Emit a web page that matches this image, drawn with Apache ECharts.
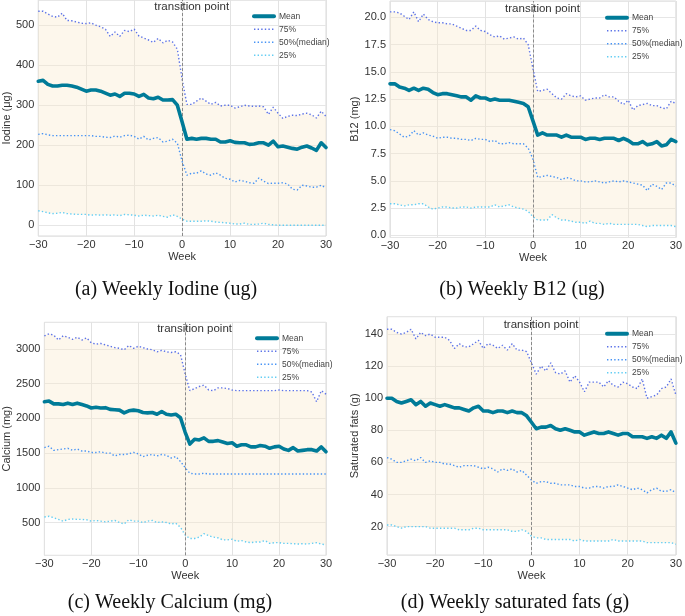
<!DOCTYPE html>
<html><head><meta charset="utf-8">
<script src="https://cdn.jsdelivr.net/npm/echarts@6/dist/echarts.min.js"></script>
<style>html,body{margin:0;padding:0;background:#fff}#c{width:685px;height:616px}</style>
</head><body><div id="c"></div>
<script>
const weeks = [-30,-29,-28,-27,-26,-25,-24,-23,-22,-21,-20,-19,-18,-17,-16,-15,-14,-13,-12,-11,-10,-9,-8,-7,-6,-5,-4,-3,-2,-1,0,1,2,3,4,5,6,7,8,9,10,11,12,13,14,15,16,17,18,19,20,21,22,23,24,25,26,27,28,29,30];
const seriesNames = ['Mean', '75%', '50%(median)', '25%'];
const transitionWeek = 0;
const noteWeek = 2;

// (a) Iodine
const iodineMean = [360,362,352,348,348,350,350,348,345,340, 335,338,338,335,330,325,328,322,330,330, 328,322,327,318,316,320,313,313,314,300, 258, 215,217,215,217,217,215,215,208,208,211, 207,206,206,202,203,206,206,200,210,196, 198,195,192,190,195,198,193,187,206,194];
const iodineP75 = [535,535,528,522,520,530,512,511,508,505, 504,506,500,496,490,472,483,472,487,484, 490,473,468,463,457,467,456,462,458,440, 365, 302,302,310,318,310,302,307,298,300,300, 293,296,300,298,297,298,296,277,295,280, 267,272,275,274,278,280,276,268,285,272];
const iodineP50 = [227,229,226,224,224,224,224,224,224,224, 224,224,222,222,220,219,223,220,224,225, 222,215,222,213,217,219,208,210,215,205, 160, 125,130,130,136,128,125,131,125,117,115, 108,112,110,106,105,118,110,104,105,105, 106,103,90,88,100,98,95,95,100,93];
const iodineP25 = [36,34,31,29,30,32,29,28,27,27, 27,25,26,25,26,25,26,24,27,26, 25,23,25,24,23,25,22,20,26,22, 15, 10,10,10,10,11,10,8,7,6,5, 3,3,5,2,2,3,5,2,1,0, 0,0,0,0,0,0,0,0,0,0];

// (b) B12
const b12Mean = [13.9,13.9,13.6,13.5,13.3,13.5,13.3,13.5,13.4,13.1, 12.9,13.0,13.0,12.9,12.8,12.7,12.7,12.4,12.8,12.6, 12.6,12.4,12.5,12.4,12.4,12.4,12.3,12.2,12.1,11.8, 10.5, 9.2,9.4,9.2,9.2,9.2,9.0,9.2,9.0,9.0,9.0, 8.8,8.9,8.9,8.8,8.9,8.9,8.9,8.7,8.9,8.7, 8.4,8.4,8.6,8.3,8.4,8.6,8.2,8.3,8.8,8.6];
const b12P75 = [20.5,20.5,20.4,20.1,19.8,20.5,19.6,20.3,19.8,19.6, 19.5,19.5,19.4,19.4,19.2,19.0,18.8,18.8,19.2,18.8, 18.7,18.4,18.2,18.3,18.0,18.1,18.2,18.0,18.1,17.5, 15.3, 13.2,13.3,13.4,13.0,12.6,12.5,13.0,12.8,12.7,12.8, 12.4,12.5,12.6,12.6,12.9,12.7,12.7,12.3,12.0,12.4, 11.5,11.9,12.0,12.1,11.9,11.9,11.7,11.6,12.3,12.1];
const b12P50 = [9.7,9.6,9.3,9.0,9.1,9.6,9.2,9.4,9.2,9.1, 8.9,9.0,9.0,8.9,8.9,8.8,8.8,8.7,8.9,8.8, 8.8,8.6,8.7,8.4,8.4,8.5,8.4,8.4,8.4,8.0, 7.0, 5.3,5.4,5.5,5.4,5.3,5.1,5.3,5.2,5.0,5.0, 4.9,4.9,5.0,4.9,4.8,4.9,5.0,4.9,5.0,4.9, 4.8,4.7,4.6,4.1,4.7,4.5,4.2,4.8,4.8,4.5];
const b12P25 = [2.9,2.9,2.8,2.7,2.8,2.8,2.9,2.9,2.6,2.4, 2.5,2.6,2.6,2.5,2.5,2.6,2.6,2.5,2.6,2.6, 2.6,2.6,2.8,2.6,2.7,2.8,2.6,2.5,2.4,2.2, 1.7, 1.4,1.4,1.4,1.9,1.6,1.4,1.4,1.3,1.2,1.2, 1.1,1.3,1.1,1.1,1.0,1.1,1.0,1.0,1.0,1.0, 1.0,1.0,0.9,0.8,0.9,0.9,0.9,0.9,0.9,0.8];

// (c) Calcium
const calciumMean = [2240,2250,2210,2210,2200,2220,2200,2220,2200,2180, 2150,2160,2150,2155,2130,2125,2120,2080,2110,2120, 2110,2085,2080,2085,2060,2100,2060,2050,2060,2010, 1800, 1630,1700,1690,1720,1670,1670,1680,1660,1640,1650, 1600,1620,1620,1590,1590,1610,1600,1570,1590,1600, 1560,1540,1580,1530,1540,1550,1550,1530,1590,1520];
const calciumP75 = [3190,3220,3200,3130,3190,3170,3140,3170,3130,3160, 3090,3070,3080,3060,3040,3020,3010,2990,3050,3010, 3040,3020,3000,2990,2960,2980,2960,2950,2960,2920, 2640, 2400,2430,2460,2480,2410,2400,2440,2440,2430,2410, 2400,2400,2400,2400,2400,2400,2400,2400,2400,2410, 2400,2400,2400,2400,2400,2400,2380,2240,2400,2350];
const calciumP50 = [1580,1600,1540,1550,1560,1570,1540,1560,1530,1530, 1510,1510,1520,1500,1500,1460,1480,1480,1490,1510, 1490,1450,1470,1480,1460,1480,1470,1430,1450,1380, 1290, 1210,1200,1200,1210,1200,1200,1200,1200,1200,1200, 1200,1200,1200,1200,1200,1200,1200,1200,1200,1200, 1200,1200,1200,1200,1200,1200,1200,1200,1200,1200];
const calciumP25 = [580,590,570,545,520,545,550,545,545,540, 520,530,520,510,520,530,500,480,540,520, 520,500,520,530,500,510,500,480,490,430, 320, 270,270,290,340,310,290,280,250,250,260, 230,240,220,210,220,220,240,200,210,210, 200,200,195,190,195,190,200,210,190,180];

// (d) Saturated fats
const satMean = [100,100,98,97,98,99,96,98,95,97, 96,95,96,95,94,94,93,92,94,95, 92,92,91,92,92,91,92,91,91,89, 85, 81,82,82,83,81,80,81,80,79,79, 77,78,79,78,78,79,78,77,78,78, 76,76,76,75,76,75,77,75,79,72];
const satP75 = [143,143,141,140,141,143,137,141,139,140, 138,138,138,136,131,134,132,132,134,136, 131,134,133,131,133,130,134,130,130,129, 122, 115,120,117,122,116,115,117,110,114,110, 104,110,110,110,107,111,108,107,110,109, 107,106,112,100,101,102,106,107,112,102];
const satP50 = [63,62,60,60,61,62,61,63,60,61, 60,60,59,59,58,57,58,58,58,57, 56,57,56,54,56,55,56,54,55,52, 49, 47,48,48,47,47,46,46,46,45,45, 44,44,45,45,44,45,45,46,45,44, 43,44,43,41,43,44,42,42,43,41];
const satP25 = [21,21,20,19,20,20,20,20,20,19, 19,19,19,19,19,18,18,18,19,19, 18,18,18,18,18,18,17,17,18,17, 14, 13,13,12,12,12,12,12,12,11,12, 11,11,11,11,11,11,12,11,11,11, 11,11,11,10,10,10,10,10,10,9];

const panels = [
  {mean: iodineMean, p75: iodineP75, p50: iodineP50, p25: iodineP25, yName: 'Iodine (μg)', caption: '(a) Weekly Iodine (ug)',
   grid: {left: 35, top: 0, width: 291, height: 236}, yMin: -27, yMax: 563, yInt: 100, nameGap: 24, dec: 0,
   legend: {left: 252, top: 11.7}, noteY: 545, cap: [166, 290]},
  {mean: b12Mean, p75: b12P75, p50: b12P50, p25: b12P25, yName: 'B12 (mg)', caption: '(b) Weekly B12 (ug)',
   grid: {left: 390, top: 1, width: 289, height: 236.5}, yMin: -0.2, yMax: 21.5, yInt: 2.5, nameGap: 26.5, dec: 1,
   legend: {left: 605, top: 13.3}, noteY: 20.76, cap: [522, 290]},
  {mean: calciumMean, p75: calciumP75, p50: calciumP50, p25: calciumP25, yName: 'Calcium (mg)', caption: '(c) Weekly Calcium (mg)',
   grid: {left: 40, top: 322.3, width: 286, height: 233}, yMin: 28, yMax: 3385, yInt: 500, nameGap: 29.5, dec: 0,
   legend: {left: 255, top: 333.7}, noteY: 3291, cap: [170, 603]},
  {mean: satMean, p75: satP75, p50: satP50, p25: satP25, yName: 'Saturated fats (g)', caption: '(d) Weekly saturated fats (g)',
   grid: {left: 387, top: 316.7, width: 292, height: 238.3}, yMin: 2.3, yMax: 150.8, yInt: 20, nameGap: 23.5, dec: 0,
   legend: {left: 605, top: 329.3}, noteY: 146, cap: [515, 603]}
];

const C_MEAN = '#007b98', C75 = '#5b72e8', C50 = '#4693f5', C25 = '#62cdf3';
const FILL = 'rgba(250,235,205,0.38)';
const TXT = '#333';
const DOT = [1.4, 2.2];
const dotted = c => ({color: c, width: 1.4, type: DOT});
const fmtWeek = v => { const n = Number(v); return n < 0 ? '\u2212' + Math.abs(n) : String(n); };
const everyTen = (idx, val) => Number(val) % 10 === 0;

const option = {
  animation: false,
  backgroundColor: '#fff',
  textStyle: {fontFamily: 'Liberation Sans'},
  grid: [], xAxis: [], yAxis: [], series: [], legend: [], graphic: []
};

panels.forEach((p, i) => {
  option.grid.push(Object.assign({show: true, borderColor: '#dadada', borderWidth: 1, backgroundColor: 'transparent', containLabel: false}, p.grid));
  option.xAxis.push({
    type: 'category', gridIndex: i, data: weeks, boundaryGap: false,
    name: 'Week', nameLocation: 'middle', nameGap: 15,
    nameTextStyle: {fontSize: 11, color: TXT},
    axisLine: {show: false}, axisTick: {show: false},
    axisLabel: {fontSize: 11, color: TXT, margin: 3, interval: everyTen, formatter: fmtWeek},
    splitLine: {show: true, interval: everyTen, lineStyle: {color: '#e2e2e2', width: 1}}
  });
  option.yAxis.push({
    type: 'value', gridIndex: i, min: p.yMin, max: p.yMax, minInterval: p.yInt, maxInterval: p.yInt, splitNumber: 6,
    name: p.yName, nameLocation: 'middle', nameGap: p.nameGap, nameRotate: 90,
    nameTextStyle: {fontSize: 11, color: TXT},
    axisLine: {show: false}, axisTick: {show: false},
    axisLabel: {fontSize: 11, color: TXT, margin: 4, showMinLabel: false, showMaxLabel: false,
      formatter: v => v.toFixed(p.dec)},
    splitLine: {show: true, lineStyle: {color: '#e6e6e6', width: 1}}
  });
  const base = {type: 'line', xAxisIndex: i, yAxisIndex: i, symbol: 'none', showSymbol: false};
  option.series.push(Object.assign({}, base, {
    name: '_lo' + i, stack: 'band' + i, data: p.p25.slice(), lineStyle: {opacity: 0}, silent: true, z: 1
  }));
  option.series.push(Object.assign({}, base, {
    name: '_band' + i, stack: 'band' + i, data: p.p75.map((v, k) => +(v - p.p25[k]).toFixed(3)),
    lineStyle: {opacity: 0}, areaStyle: {color: FILL, opacity: 1}, silent: true, z: 1
  }));
  option.series.push(Object.assign({}, base, {
    name: 'Mean', data: p.mean, color: C_MEAN, lineStyle: {color: C_MEAN, width: 3.6, cap: 'round', join: 'round'}, z: 5,
    markLine: {silent: true, symbol: 'none', label: {show: false},
      lineStyle: {color: '#8a8a8a', type: [3, 2], width: 1}, data: [{xAxis: weeks.indexOf(transitionWeek)}]},
    markPoint: {silent: true, symbol: 'circle', symbolSize: 1, itemStyle: {color: 'rgba(0,0,0,0)'},
      label: {show: true, position: 'inside', formatter: 'transition point', color: TXT, fontSize: 11.5},
      data: [{coord: [weeks.indexOf(noteWeek), p.noteY]}]}
  }));
  option.series.push(Object.assign({}, base, {name: '75%', data: p.p75, color: C75, lineStyle: dotted(C75), z: 4}));
  option.series.push(Object.assign({}, base, {name: '50%(median)', data: p.p50, color: C50, lineStyle: dotted(C50), z: 4}));
  option.series.push(Object.assign({}, base, {name: '25%', data: p.p25, color: C25, lineStyle: dotted(C25), z: 4}));
  option.legend.push({
    orient: 'vertical', left: p.legend.left, top: p.legend.top, padding: 0,
    itemWidth: 20, itemHeight: 8, itemGap: 4, selectedMode: false,
    itemStyle: {opacity: 0},
    textStyle: {fontSize: 8.5, color: '#444', lineHeight: 8},
    data: [
      {name: 'Mean', lineStyle: {width: 4, color: C_MEAN, cap: 'round'}, itemStyle: {opacity: 0}},
      {name: '75%', lineStyle: {width: 1.4, color: C75, type: DOT}, itemStyle: {opacity: 0}},
      {name: '50%(median)', lineStyle: {width: 1.4, color: C50, type: DOT}, itemStyle: {opacity: 0}},
      {name: '25%', lineStyle: {width: 1.4, color: C25, type: DOT}, itemStyle: {opacity: 0}}
    ]
  });
  option.graphic.push({
    type: 'text', x: p.cap[0], y: p.cap[1], silent: true,
    style: {text: p.caption, fontSize: 20, fontFamily: 'Liberation Serif', fill: '#111',
      align: 'center', verticalAlign: 'middle', textAlign: 'center', textVerticalAlign: 'middle'}
  });
});

const chart = echarts.init(document.getElementById('c'), null, {renderer: 'canvas'});
chart.setOption(option);
</script>
</body></html>
